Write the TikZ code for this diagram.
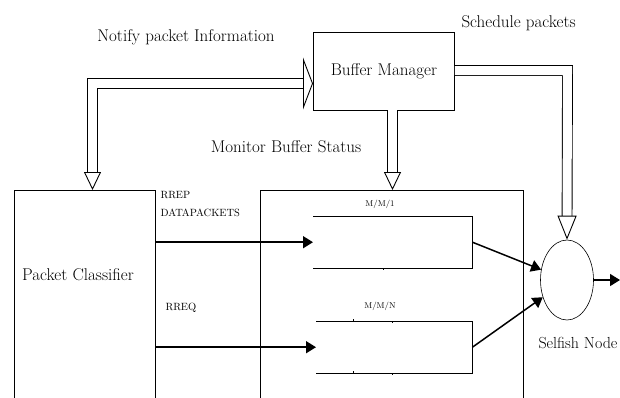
\documentclass[tikz,border=0pt]{standalone}
\usepackage{tikz}
\usetikzlibrary{arrows.meta, positioning, shapes.geometric, calc}

\tikzset{
  box/.style={draw, line width=0.8pt, inner sep=0pt},
  pipe/.style={double, double distance=9pt, line width=0.9pt},
  flow/.style={line width=1.5pt, -{Triangle[length=10pt,width=12pt]}},
  lbl/.style={font=\fontsize{17}{19}\selectfont},
  tag/.style={font=\fontsize{10.5}{12}\selectfont, anchor=west},
  qtag/.style={font=\fontsize{8.5}{10}\selectfont},
}

\begin{document}
\begin{tikzpicture}[x=1pt, y=-1pt]
    \clip (0,0) rectangle (620,397);

    % Blocks
    \node[box, minimum width=141pt, minimum height=240pt, anchor=north west] (pc) at (14,190) {};
    \node[lbl] (pctext) at (78,275) {Packet Classifier};
    \node[box, minimum width=141pt, minimum height=78pt, anchor=north west, lbl] (bm) at (313,32) {Buffer Manager};
    \node[box, minimum width=263pt, minimum height=240pt, anchor=north west] (qbox) at (260,190) {};

    % Queues (open on the left)
    \node[minimum width=159pt, minimum height=52pt, inner sep=0pt, anchor=north west] (q1) at (313,216) {};
    \node[minimum width=156pt, minimum height=52pt, inner sep=0pt, anchor=north west] (q2) at (316,321) {};
    \draw[line width=0.8pt] (q1.north west) -- (q1.north east) -- (q1.south east) -- (q1.south west);
    \draw[line width=0.8pt] (q2.north west) -- (q2.north east) -- (q2.south east) -- (q2.south west);
    \draw[line width=0.5pt] (383,268) -- ++(0,2);
    \draw[line width=0.5pt] (353,321) -- ++(0,-2) (392,321) -- ++(0,2);
    \draw[line width=0.5pt] (353,373) -- ++(0,-2) (392,373) -- ++(0,2);
    \node[qtag] (q1tag) at (380,204) {M/M/1};
    \node[qtag] (q2tag) at (380,306) {M/M/N};

    % Selfish node
    \node[draw, ellipse, line width=0.6pt, minimum width=53pt, minimum height=80pt] (sn) at (567,280) {};
    \node[lbl, font=\fontsize{16}{18}\selectfont, anchor=west] (sntext) at (535,343) {Selfish Node};
    \coordinate (out) at (620,280);

    % Labels
    \node[lbl] (notify) at (186,37) {Notify packet Information};
    \node[lbl, anchor=west] (sched) at (458,23) {Schedule packets};
    \node[lbl] (monitor) at (286,147) {Monitor Buffer Status};
    \node[tag] (rrep) at (157,195) {RREP};
    \node[tag] (data) at (157,213) {DATAPACKETS};
    \node[tag] (rreq) at (162,308) {RREQ};

    % Hollow arrows
    \coordinate (nj) at (92.5,83.5);
    \coordinate (mj) at (392.5,110);
    \coordinate (sj) at (567.5,70.5);
    \draw[pipe, {Triangle[open,length=18pt,width=17pt]}-{Triangle[open,length=10pt,width=52pt]}]
        (nj |- pc.north) -- (nj) -- (nj -| bm.west);
    \draw[pipe, -{Triangle[open,length=18pt,width=17pt]}]
        (mj) -- (mj |- qbox.north);
    \draw[pipe, -{Triangle[open,length=24pt,width=19pt]}]
        (sj -| bm.east) -- (sj) -- (sn.north);

    % Packet flows
    \draw[flow] (pc.east |- q1.west) -- (q1.west);
    \draw[flow] (pc.east |- q2.west) -- (q2.west);
    \draw[flow] (q1.east) -- (sn);
    \draw[flow] (q2.east) -- (sn);
    \draw[flow] (sn.east) -- (out);
\end{tikzpicture}
\end{document}
